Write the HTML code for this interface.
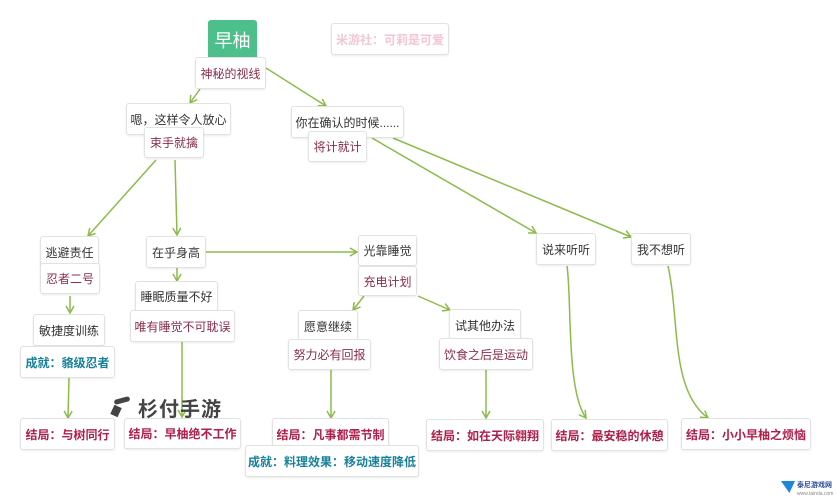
<!DOCTYPE html>
<html><head><meta charset="utf-8"><style>
html,body{margin:0;padding:0;background:#fff;}
#c{position:relative;width:836px;height:500px;overflow:hidden;background:#fff;font-family:"Liberation Sans","Noto Sans CJK SC",sans-serif;}
.b{position:absolute;box-sizing:border-box;background:#fff;border:1px solid #e2e2e2;border-radius:3px;box-shadow:0 1px 2px rgba(0,0,0,0.08);display:flex;align-items:center;justify-content:center;font-size:12px;color:#333;white-space:nowrap;}
.m{color:#8a2c4c;}
.e{color:#b01e48;font-weight:bold;}
.a{color:#17809a;font-weight:bold;}
svg{position:absolute;left:0;top:0;}
</style></head><body><div id="c">
<svg width="836" height="500">
<defs><marker id="ar" markerWidth="10" markerHeight="10" refX="8" refY="5" orient="auto" markerUnits="userSpaceOnUse"><path d="M1,1 L8,5 L1,9" fill="none" stroke="#8cbb4a" stroke-width="1.5"/></marker></defs>
<g stroke="#8cbb4a" stroke-width="1.5" fill="none" marker-end="url(#ar)">
<line x1="200" y1="89" x2="190" y2="103"/>
<line x1="266" y1="68" x2="326" y2="106"/>
<line x1="156" y1="160" x2="88" y2="236"/>
<line x1="175" y1="160" x2="177" y2="235"/>
<line x1="372" y1="138" x2="536" y2="233"/>
<line x1="393" y1="138" x2="631" y2="237"/>
<line x1="206" y1="252" x2="357" y2="252"/>
<line x1="177" y1="268" x2="177" y2="281"/>
<line x1="70" y1="296" x2="70" y2="313"/>
<line x1="364" y1="296" x2="353" y2="310"/>
<line x1="418" y1="296" x2="450" y2="310"/>
<line x1="69" y1="378" x2="68" y2="418"/>
<line x1="182" y1="342" x2="182" y2="417"/>
<line x1="331" y1="370" x2="331" y2="418"/>
<line x1="486" y1="370" x2="486" y2="418"/>
<path d="M567,266 C572,300 566,390 586,418"/>
<path d="M668,266 C680,320 670,390 708,418"/>
</g>
</svg>
<div class="b" style="left:208px;top:20px;width:49px;height:40px;background:#4dbf8a;border-color:#4dbf8a;color:#fff;font-size:18px;">早柚</div>
<div class="b m" style="left:195px;top:57px;width:71px;height:32px;">神秘的视线</div>
<div class="b" style="left:331px;top:23px;width:118px;height:32px;color:#f2c6d4;font-weight:bold;">米游社：可莉是可爱</div>
<div class="b" style="left:126px;top:103px;width:105px;height:32px;">嗯，这样令人放心</div>
<div class="b m" style="left:144px;top:127px;width:60px;height:31px;">束手就擒</div>
<div class="b" style="left:291px;top:106px;width:113px;height:32px;">你在确认的时候......</div>
<div class="b m" style="left:308px;top:131px;width:59px;height:31px;">将计就计</div>
<div class="b" style="left:40px;top:236px;width:59px;height:32px;">逃避责任</div>
<div class="b m" style="left:40px;top:263px;width:60px;height:31px;">忍者二号</div>
<div class="b" style="left:146px;top:236px;width:60px;height:32px;">在乎身高</div>
<div class="b" style="left:135px;top:281px;width:83px;height:31px;">睡眠质量不好</div>
<div class="b m" style="left:130px;top:310px;width:105px;height:32px;">唯有睡觉不可耽误</div>
<div class="b" style="left:33px;top:314px;width:72px;height:32px;">敏捷度训练</div>
<div class="b a" style="left:20px;top:346px;width:95px;height:32px;">成就：貉级忍者</div>
<div class="b" style="left:358px;top:235px;width:59px;height:31px;">光靠睡觉</div>
<div class="b m" style="left:358px;top:266px;width:59px;height:30px;">充电计划</div>
<div class="b" style="left:536px;top:233px;width:60px;height:32px;">说来听听</div>
<div class="b" style="left:631px;top:233px;width:60px;height:32px;">我不想听</div>
<div class="b" style="left:298px;top:310px;width:60px;height:32px;">愿意继续</div>
<div class="b m" style="left:288px;top:339px;width:83px;height:31px;">努力必有回报</div>
<div class="b" style="left:449px;top:309px;width:72px;height:32px;">试其他办法</div>
<div class="b m" style="left:439px;top:338px;width:94px;height:32px;">饮食之后是运动</div>
<div class="b e" style="left:20px;top:418px;width:95px;height:32px;">结局：与树同行</div>
<div class="b e" style="left:124px;top:418px;width:117px;height:31px;">结局：早柚绝不工作</div>
<div class="b e" style="left:272px;top:418px;width:117px;height:32px;">结局：凡事都需节制</div>
<div class="b a" style="left:245px;top:445px;width:174px;height:32px;">成就：料理效果：移动速度降低</div>
<div class="b e" style="left:426px;top:419px;width:118px;height:32px;">结局：如在天际翱翔</div>
<div class="b e" style="left:551px;top:419px;width:117px;height:32px;">结局：最安稳的休憩</div>
<div class="b e" style="left:681px;top:418px;width:130px;height:32px;">结局：小小早柚之烦恼</div>
<div style="position:absolute;left:110px;top:398px;width:20px;height:20px;">
<div style="position:absolute;left:4px;top:0;width:16px;height:5px;background:#444;transform:rotate(-15deg);border-radius:3px;"></div>
<div style="position:absolute;left:2px;top:8px;width:8px;height:10px;background:#444;transform:rotate(25deg);"></div>
</div>
<div style="position:absolute;left:138px;top:393px;font-size:20px;font-weight:bold;color:#444;letter-spacing:1px;">杉付手游</div>
<div style="position:absolute;left:781px;top:481px;width:14px;height:12px;background:#1e88d8;clip-path:polygon(0 0,100% 0,60% 100%);"></div>
<div style="position:absolute;left:797px;top:480px;font-size:7px;font-weight:bold;color:#2a4a9a;white-space:nowrap;">泰尼游戏网</div>
<div style="position:absolute;left:797px;top:491px;font-size:5px;color:#888;white-space:nowrap;">www.tainda.com</div>
</div></body></html>
